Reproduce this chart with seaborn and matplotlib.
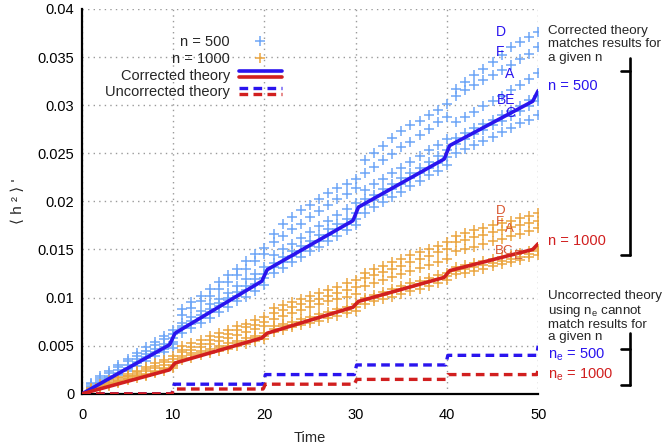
import numpy as np
import pandas as pd
import matplotlib
matplotlib.use("Agg")
import matplotlib.pyplot as plt
from matplotlib.lines import Line2D
from matplotlib.legend_handler import HandlerBase
from matplotlib.ticker import FuncFormatter
import seaborn as sns

# sample times and simulation runs (values in units of 1e-3)
time = list(range(1, 51))

n500_D = [1.1, 1.8, 2.4, 3.0, 3.6, 4.2, 4.9, 5.4, 6.0, 6.6,
          8.8, 9.5, 10.2, 10.9, 11.6, 12.3, 13.0, 13.8, 14.5, 15.2,
          16.6, 17.6, 18.4, 19.1, 19.6, 20.2, 20.9, 21.4, 21.8, 22.3,
          24.3, 25.0, 25.8, 26.6, 27.3, 27.9, 28.4, 29.0, 29.5, 30.1,
          31.7, 32.4, 33.1, 33.8, 34.5, 35.2, 36.0, 36.6, 37.1, 37.6]
n500_F = [1.0, 1.6, 2.2, 2.8, 3.4, 3.9, 4.5, 5.1, 5.7, 6.2,
          8.2, 8.9, 9.6, 10.2, 10.9, 11.6, 12.3, 13.0, 13.8, 14.5,
          15.8, 16.4, 17.1, 17.7, 18.4, 19.0, 19.6, 20.2, 20.8, 21.4,
          22.9, 23.6, 24.3, 24.9, 25.6, 26.2, 26.9, 27.5, 28.2, 28.8,
          31.0, 31.6, 32.1, 32.6, 33.1, 33.7, 34.2, 34.8, 35.3, 36.0]
n500_A = [0.8, 1.4, 1.9, 2.5, 3.0, 3.6, 4.1, 4.7, 5.2, 5.8,
          7.4, 8.0, 8.6, 9.3, 9.9, 10.5, 11.2, 11.9, 12.5, 13.2,
          14.4, 15.0, 15.6, 16.2, 16.8, 17.4, 18.0, 18.6, 19.2, 19.8,
          21.2, 21.8, 22.3, 22.9, 23.5, 24.1, 24.7, 25.3, 25.9, 26.5,
          28.2, 28.8, 29.3, 29.9, 30.4, 31.0, 31.6, 32.1, 32.7, 33.3]
n500_B = [0.7, 1.2, 1.7, 2.2, 2.7, 3.3, 3.8, 4.3, 4.9, 5.4,
          7.0, 7.6, 8.2, 8.8, 9.4, 10.0, 10.6, 11.2, 11.9, 12.5,
          13.6, 14.2, 14.8, 15.4, 15.9, 16.5, 17.1, 17.7, 18.2, 18.8,
          20.2, 20.7, 21.3, 21.8, 22.4, 22.9, 23.5, 24.1, 24.7, 25.3,
          26.6, 27.1, 27.6, 28.0, 28.5, 29.0, 29.4, 29.9, 30.5, 31.0]
n500_E = [0.6, 1.1, 1.6, 2.1, 2.6, 3.2, 3.7, 4.2, 4.7, 5.2,
          6.8, 7.3, 7.9, 8.5, 9.1, 9.7, 10.2, 10.8, 11.4, 12.0,
          13.2, 13.7, 14.3, 14.8, 15.4, 15.9, 16.5, 17.1, 17.6, 18.2,
          19.6, 20.1, 20.7, 21.3, 21.8, 22.4, 22.9, 23.5, 24.0, 24.6,
          26.0, 26.5, 27.0, 27.4, 27.9, 28.4, 28.9, 29.4, 29.9, 30.4]
n500_C = [0.5, 1.0, 1.5, 2.0, 2.4, 2.9, 3.4, 3.9, 4.3, 4.8,
          6.3, 6.8, 7.4, 7.9, 8.5, 9.0, 9.6, 10.1, 10.7, 11.3,
          12.6, 13.1, 13.7, 14.2, 14.8, 15.3, 15.9, 16.4, 17.0, 17.5,
          18.8, 19.4, 19.9, 20.5, 21.0, 21.6, 22.1, 22.7, 23.2, 23.8,
          25.0, 25.4, 25.9, 26.3, 26.7, 27.2, 27.6, 28.1, 28.5, 29.0]

n1000_D = [0.6, 1.0, 1.4, 1.7, 2.1, 2.4, 2.8, 3.2, 3.5, 3.9,
           5.0, 5.3, 5.6, 6.0, 6.3, 6.6, 7.0, 7.3, 7.7, 8.0,
           8.9, 9.2, 9.5, 9.9, 10.2, 10.5, 10.8, 11.1, 11.5, 11.8,
           12.6, 13.0, 13.3, 13.7, 14.0, 14.4, 14.7, 15.1, 15.4, 15.8,
           16.4, 16.7, 17.0, 17.2, 17.5, 17.8, 18.0, 18.3, 18.5, 18.8]
n1000_F = [0.5, 0.9, 1.2, 1.6, 1.9, 2.3, 2.6, 2.9, 3.3, 3.6,
           4.6, 4.9, 5.2, 5.6, 5.9, 6.2, 6.6, 6.9, 7.2, 7.5,
           8.4, 8.7, 9.0, 9.3, 9.6, 9.9, 10.2, 10.5, 10.8, 11.1,
           12.0, 12.3, 12.7, 13.0, 13.3, 13.7, 14.0, 14.3, 14.7, 15.0,
           15.8, 16.0, 16.3, 16.5, 16.8, 17.0, 17.3, 17.5, 17.8, 18.0]
n1000_A = [0.45, 0.8, 1.1, 1.4, 1.8, 2.1, 2.4, 2.7, 3.0, 3.3,
           4.3, 4.6, 4.9, 5.2, 5.5, 5.8, 6.1, 6.4, 6.7, 7.0,
           7.8, 8.1, 8.4, 8.7, 9.0, 9.3, 9.6, 9.9, 10.1, 10.4,
           11.2, 11.5, 11.8, 12.1, 12.4, 12.8, 13.1, 13.4, 13.7, 14.0,
           14.8, 15.1, 15.3, 15.6, 15.9, 16.1, 16.4, 16.6, 16.9, 17.2]
n1000_B = [0.4, 0.7, 1.0, 1.3, 1.6, 1.8, 2.1, 2.4, 2.7, 3.0,
           3.9, 4.2, 4.5, 4.7, 5.0, 5.3, 5.5, 5.8, 6.0, 6.3,
           7.0, 7.3, 7.5, 7.8, 8.0, 8.3, 8.5, 8.8, 9.0, 9.3,
           10.0, 10.3, 10.6, 10.9, 11.2, 11.5, 11.7, 12.0, 12.3, 12.6,
           13.2, 13.4, 13.6, 13.8, 14.0, 14.2, 14.4, 14.6, 14.8, 15.0]
n1000_C = [0.35, 0.6, 0.9, 1.2, 1.5, 1.8, 2.0, 2.3, 2.6, 2.9,
           3.7, 4.0, 4.2, 4.5, 4.8, 5.0, 5.3, 5.5, 5.8, 6.0,
           6.7, 7.0, 7.2, 7.5, 7.7, 8.0, 8.2, 8.5, 8.7, 9.0,
           9.7, 10.0, 10.3, 10.6, 10.9, 11.1, 11.4, 11.7, 11.9, 12.2,
           12.8, 13.0, 13.2, 13.4, 13.6, 13.8, 14.0, 14.2, 14.5, 14.8]
n1000_E = [0.3, 0.6, 0.8, 1.1, 1.4, 1.6, 1.9, 2.2, 2.4, 2.7,
           3.5, 3.7, 4.0, 4.2, 4.5, 4.7, 5.0, 5.2, 5.5, 5.7,
           6.4, 6.6, 6.9, 7.1, 7.4, 7.6, 7.9, 8.1, 8.4, 8.6,
           9.3, 9.6, 9.9, 10.1, 10.4, 10.7, 10.9, 11.2, 11.5, 11.8,
           12.4, 12.6, 12.8, 13.0, 13.3, 13.5, 13.7, 13.9, 14.2, 14.4]

# theory curves (values in units of 1e-3)
t_corr = [0, 9.6, 10.2, 19.7, 20.3, 29.7, 30.3, 39.7, 40.3, 49.4, 50]
corr_500 = [0, 5.1, 6.3, 11.7, 12.9, 18.0, 19.4, 24.4, 25.8, 30.4, 31.5]
corr_1000 = [0, 2.5, 3.2, 5.8, 6.3, 9.0, 9.6, 12.1, 12.8, 15.0, 15.6]
t_unc = [0, 9.85, 10.1, 19.85, 20.1, 29.85, 30.1, 39.85, 40.1, 49.85, 50]
unc_500 = [0, 0, 1.0, 1.0, 2.0, 2.0, 3.0, 3.0, 4.0, 4.0, 5.0]
unc_1000 = [0, 0, 0.5, 0.5, 1.0, 1.0, 1.5, 1.5, 2.0, 2.0, 2.5]

runs_500 = {"D": n500_D, "F": n500_F, "A": n500_A, "B": n500_B, "E": n500_E, "C": n500_C}
runs_1000 = {"D": n1000_D, "F": n1000_F, "A": n1000_A, "B": n1000_B, "E": n1000_E, "C": n1000_C}


def to_long(runs):
    rows = []
    for name, vals in runs.items():
        for t, v in zip(time, vals):
            rows.append({"Time": t, "h2": v * 1e-3, "run": name})
    return pd.DataFrame(rows)


df500 = to_long(runs_500)
df1000 = to_long(runs_1000)

c_pts500 = "#6ea6f6"
c_pts1000 = "#eba540"
c_blue = "#2a14ee"
c_red = "#d11f1f"
c_lab1000 = "#d9552e"


class StackedHandler(HandlerBase):
    # draws the lines of a tuple handle one above the other
    def create_artists(self, legend, orig_handle, xdescent, ydescent,
                       width, height, fontsize, trans):
        arts = []
        for i, h in enumerate(orig_handle):
            y = height * (0.8 - 0.55 * i) - ydescent
            ln = Line2D([-xdescent, -xdescent + width], [y, y])
            ln.update_from(h)
            ln.set_transform(trans)
            arts.append(ln)
        return arts


sns.set_style("white")
plt.rcParams["font.family"] = ["Liberation Sans", "DejaVu Sans"]

fig = plt.figure(figsize=(6.64, 4.46), dpi=100)
ax = fig.add_axes([0.1235, 0.117, 0.687, 0.863])

sns.scatterplot(data=df500, x="Time", y="h2", marker="+", color=c_pts500,
                s=60, linewidth=1.1, legend=False, ax=ax, zorder=2)
sns.scatterplot(data=df1000, x="Time", y="h2", marker="+", color=c_pts1000,
                s=60, linewidth=1.1, legend=False, ax=ax, zorder=2)

dash = (0, (2.6, 1.6))
sns.lineplot(x=t_unc, y=np.array(unc_500) * 1e-3, color=c_blue, lw=2.4,
             linestyle=dash, estimator=None, sort=False, ax=ax, zorder=3)
sns.lineplot(x=t_unc, y=np.array(unc_1000) * 1e-3, color=c_red, lw=2.4,
             linestyle=dash, estimator=None, sort=False, ax=ax, zorder=3)
sns.lineplot(x=t_corr, y=np.array(corr_500) * 1e-3, color=c_blue, lw=2.6,
             estimator=None, sort=False, ax=ax, zorder=4)
sns.lineplot(x=t_corr, y=np.array(corr_1000) * 1e-3, color=c_red, lw=2.6,
             estimator=None, sort=False, ax=ax, zorder=4)

# run labels near the end of each set
lab500 = [("D", 45.9, 37.6), ("F", 45.8, 35.5), ("A", 46.9, 33.2),
          ("BE", 46.5, 30.5), ("C", 46.9, 29.2)]
lab1000 = [("D", 45.9, 19.0), ("F", 45.8, 17.9), ("A", 46.9, 17.1),
           ("BC", 46.3, 14.8), ("E", 47.8, 14.3)]
for s, x, y in lab500:
    ax.text(x, y * 1e-3, s, color=c_blue, fontsize=10, ha="center", va="center", zorder=5)
for s, x, y in lab1000:
    ax.text(x, y * 1e-3, s, color=c_lab1000, fontsize=9.6, ha="center", va="center", zorder=5)

ax.set_xlim(0, 50)
ax.set_ylim(0, 0.04)
ax.set_xticks(range(0, 51, 10))
ax.set_yticks(np.arange(0, 0.0401, 0.005))
ax.yaxis.set_major_formatter(FuncFormatter(lambda v, p: "%g" % round(v, 4)))
ax.grid(True, color="#9a9a9a", lw=1.0, ls=(0, (1, 3)))
for side in ["top", "right"]:
    ax.spines[side].set_visible(False)
for side in ["left", "bottom"]:
    ax.spines[side].set_linewidth(1.6)
    ax.spines[side].set_color("black")
ax.tick_params(axis="both", direction="in", length=6, width=1.6, labelsize=10.5, colors="black")
ax.tick_params(axis="x", pad=10)
ax.tick_params(axis="y", pad=5.5)
ax.set_xlabel("Time", fontsize=10.5, labelpad=7)
ax.set_ylabel("\u27e8 h \u00b2 \u27e9 '", fontsize=11, labelpad=9)

# legend with handles on the right
h500 = Line2D([], [], ls="none", marker="+", color=c_pts500, ms=7.5, mew=1.1)
h1000 = Line2D([], [], ls="none", marker="+", color=c_pts1000, ms=7.5, mew=1.1)
hc = (Line2D([], [], color=c_blue, lw=2.6), Line2D([], [], color=c_red, lw=2.6))
hu = (Line2D([], [], color=c_blue, lw=2.4, ls=dash), Line2D([], [], color=c_red, lw=2.4, ls=dash))
ax.legend([h500, h1000, hc, hu],
          ["n = 500", "n = 1000", "Corrected theory", "Uncorrected theory"],
          handler_map={tuple: StackedHandler()}, markerfirst=False, frameon=False,
          loc="upper right", bbox_to_anchor=(0.468, 0.967), fontsize=10.5,
          handlelength=3.0, handletextpad=0.6, labelspacing=0.2)

# notes on the right
fig.text(0.825, 1 - 25 / 446, "Corrected theory\nmatches results for\na given n",
         fontsize=9.6, va="top", ha="left", linespacing=1.15)
fig.text(0.825, 1 - 86 / 446, "n = 500", color=c_blue, fontsize=10.5, va="center")
fig.text(0.825, 1 - 241 / 446, "n = 1000", color=c_red, fontsize=10.5, va="center")
fig.text(0.825, 1 - 290 / 446, "Uncorrected theory\nusing n$_\\mathregular{e}$ cannot\nmatch results for\na given n",
         fontsize=9.6, va="top", ha="left", linespacing=1.05)
fig.text(0.825, 1 - 355 / 446, "n$_\\mathregular{e}$ = 500", color=c_blue, fontsize=10.5, va="center")
fig.text(0.825, 1 - 375 / 446, "n$_\\mathregular{e}$ = 1000", color=c_red, fontsize=10.5, va="center")


def bracket(ytop, ytick, ybot, x=630, w=9):
    kw = dict(color="black", lw=1.9, transform=fig.transFigure)
    X = lambda px: px / 664
    Y = lambda py: 1 - py / 446
    fig.add_artist(Line2D([X(x), X(x)], [Y(ytop), Y(ybot)], **kw))
    fig.add_artist(Line2D([X(x - w), X(x)], [Y(ytick), Y(ytick)], **kw))
    fig.add_artist(Line2D([X(x - w), X(x)], [Y(ybot), Y(ybot)], **kw))


bracket(58, 71, 255)
bracket(333, 349, 385)

fig.savefig("out.png", dpi=100)
